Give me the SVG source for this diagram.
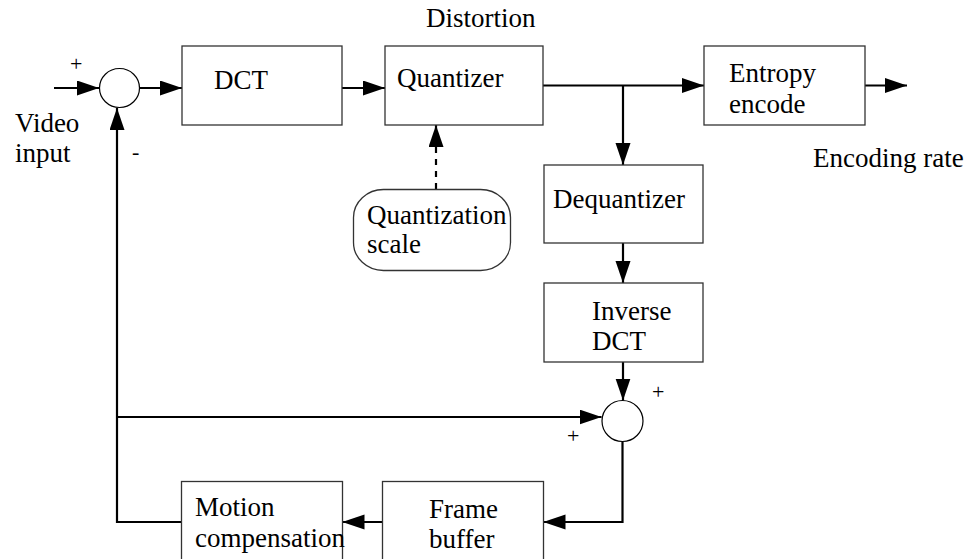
<svg xmlns="http://www.w3.org/2000/svg" width="967" height="559" viewBox="0 0 967 559" font-family="'Liberation Serif', 'Times New Roman', serif">
<style>
.box{fill:#fff;stroke:#333;stroke-width:1.3}
.sum{fill:#fff;stroke:#000;stroke-width:1.2}
.wire{fill:none;stroke:#000;stroke-width:2.2}
.dash{stroke-dasharray:6 6}
.lbl{font-family:'Liberation Serif','Times New Roman',serif;font-size:27px;fill:#000}
.sign{font-family:'Liberation Serif','Times New Roman',serif;font-size:22px;fill:#000}
</style>
<defs>
<marker id="ah" markerUnits="userSpaceOnUse" markerWidth="22" markerHeight="16" refX="22" refY="7.5" orient="auto">
<path d="M0,0 L22,7.5 L0,15 z" fill="#000"/>
</marker>
</defs>
<rect width="967" height="559" fill="#fff"/>

<g id="connectors">
<path class="wire" d="M54,88 H99" marker-end="url(#ah)"/>
<path class="wire" d="M140,88 H182" marker-end="url(#ah)"/>
<path class="wire" d="M342,88 H385" marker-end="url(#ah)"/>
<path class="wire" d="M543,85.5 H704" marker-end="url(#ah)"/>
<path class="wire" d="M623,85.5 V165" marker-end="url(#ah)"/>
<path class="wire" d="M865,85.5 H907" marker-end="url(#ah)"/>
<path class="wire dash" d="M436,189 V125" marker-end="url(#ah)"/>
<path class="wire" d="M623,243 V283" marker-end="url(#ah)"/>
<path class="wire" d="M623,362 V400.5" marker-end="url(#ah)"/>
<path class="wire" d="M182,522 H117 V108" marker-end="url(#ah)"/>
<path class="wire" d="M117,417 H601.5" marker-end="url(#ah)"/>
<path class="wire" d="M622.5,441.5 V522 H543.5" marker-end="url(#ah)"/>
<path class="wire" d="M382.5,522 H342.5" marker-end="url(#ah)"/>
</g>

<g id="sum1">
<ellipse class="sum" cx="119.5" cy="88" rx="20" ry="19.5"/>
<text class="sign" x="70" y="71">+</text>
<text class="sign" x="132" y="159">-</text>
</g>
<g id="video-input">
<text class="lbl" x="15" y="132">Video</text>
<text class="lbl" x="15" y="162">input</text>
</g>
<g id="dct">
<rect class="box" x="182" y="46" width="160" height="79"/>
<text class="lbl" x="214" y="89">DCT</text>
</g>
<g id="quantizer">
<rect class="box" x="385" y="46" width="158" height="79"/>
<text class="lbl" x="397" y="87">Quantizer</text>
<text class="lbl" x="426" y="27">Distortion</text>
</g>
<g id="entropy">
<rect class="box" x="704" y="46" width="161" height="79"/>
<text class="lbl" x="729" y="82">Entropy</text>
<text class="lbl" x="729" y="113">encode</text>
<text class="lbl" x="813" y="167">Encoding rate</text>
</g>
<g id="qscale">
<rect class="box" x="353.5" y="189.5" width="157" height="81" rx="30" ry="28"/>
<text class="lbl" x="367" y="224">Quantization</text>
<text class="lbl" x="367" y="253">scale</text>
</g>
<g id="dequantizer">
<rect class="box" x="544" y="165" width="159" height="78"/>
<text class="lbl" x="553" y="208">Dequantizer</text>
</g>
<g id="idct">
<rect class="box" x="544" y="283" width="159" height="79"/>
<text class="lbl" x="592" y="320">Inverse</text>
<text class="lbl" x="592" y="350">DCT</text>
</g>
<g id="sum2">
<ellipse class="sum" cx="622.5" cy="421" rx="20.5" ry="20.5"/>
<text class="sign" x="652" y="399">+</text>
<text class="sign" x="567" y="443">+</text>
</g>
<g id="motion">
<rect class="box" x="181.5" y="481.5" width="161" height="100"/>
<text class="lbl" x="195" y="516">Motion</text>
<text class="lbl" x="195" y="547">compensation</text>
</g>
<g id="framebuffer">
<rect class="box" x="382.5" y="481.5" width="161" height="100"/>
<text class="lbl" x="429" y="518">Frame</text>
<text class="lbl" x="429" y="548">buffer</text>
</g>
</svg>
